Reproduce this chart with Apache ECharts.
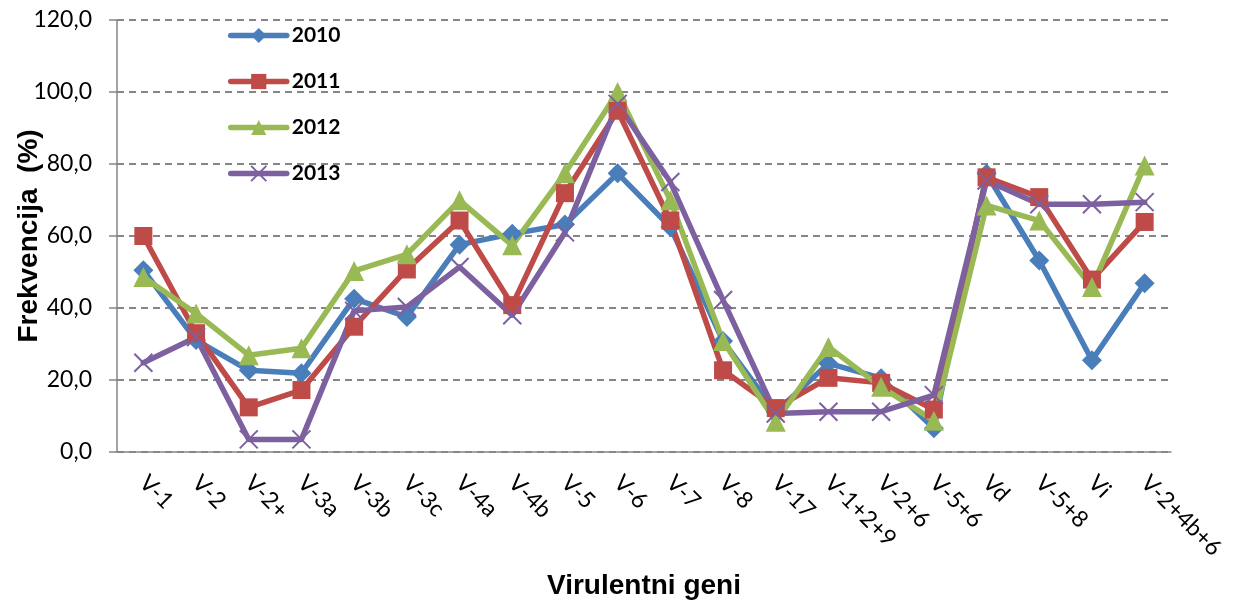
<!DOCTYPE html>
<html>
<head>
<meta charset="utf-8">
<script src="https://cdn.jsdelivr.net/npm/echarts@6/dist/echarts.min.js"></script>
<style>
  html, body { margin: 0; padding: 0; background: #fff; }
  #chart { width: 1241px; height: 604px; }
</style>
</head>
<body>
<div id="chart"></div>
<script>
const categories = ['V-1', 'V-2', 'V-2+', 'V-3a', 'V-3b', 'V-3c', 'V-4a', 'V-4b', 'V-5', 'V-6',
  'V-7', 'V-8', 'V-17', 'V-1+2+9', 'V-2+6', 'V-5+6', 'Vd', 'V-5+8', 'Vi', 'V-2+4b+6'];

const values2010 = [50.5, 31.1, 22.7, 21.9, 42.6, 37.5, 57.6, 60.6, 63.2, 77.4,
  62.5, 30.8, 11.1, 24.6, 20.5, 6.6, 77.3, 53.2, 25.5, 46.9];
const values2011 = [60.0, 33.0, 12.4, 17.2, 34.8, 50.7, 64.3, 40.8, 71.9, 94.8,
  64.3, 22.7, 12.2, 20.6, 19.2, 11.8, 76.3, 70.8, 47.9, 63.9];
const values2012 = [48.6, 38.5, 26.9, 28.8, 50.3, 54.9, 69.9, 57.4, 77.4, 100.0,
  69.9, 30.8, 8.4, 29.2, 18.1, 8.7, 68.5, 64.3, 45.8, 79.6];
const values2013 = [24.8, 31.9, 3.5, 3.5, 39.2, 40.3, 51.4, 38.0, 61.0, 96.7,
  75.0, 42.2, 10.7, 11.2, 11.2, 15.8, 75.4, 68.8, 68.8, 69.4];

const yTickLabels = ['0,0', '20,0', '40,0', '60,0', '80,0', '100,0', '120,0'];

const chart = echarts.init(document.getElementById('chart'));

function lineSeries(name, data, color, symbol, size, extraItem) {
  return {
    name: name,
    type: 'line',
    data: data,
    symbol: symbol,
    symbolSize: size,
    showAllSymbol: true,
    lineStyle: { color: color, width: 5.5, cap: 'round', join: 'round' },
    itemStyle: Object.assign({ color: color, borderWidth: 0 }, extraItem || {}),
    emphasis: { disabled: true }
  };
}

chart.setOption({
  animation: false,
  backgroundColor: '#fff',
  grid: { left: 117, right: 70, top: 20, bottom: 152, outerBoundsMode: 'none' },
  legend: {
    orient: 'vertical',
    left: 223,
    top: 20,
    itemWidth: 56,
    itemHeight: 19,
    itemGap: 25,
    lineStyle: { width: 5.5, cap: 'round' },
    textStyle: { fontFamily: 'Lato', fontWeight: 'bold', fontSize: 21, color: '#000' },
    data: ['2010', '2011', '2012', '2013']
  },
  xAxis: {
    type: 'category',
    data: categories,
    name: 'Virulentni geni',
    nameLocation: 'middle',
    nameGap: 120,
    nameMoveOverlap: false,
    nameTextStyle: { fontFamily: 'Liberation Sans', fontWeight: 'bold', fontSize: 28, color: '#000' },
    axisLine: { lineStyle: { color: '#868686', width: 1.5 } },
    axisTick: { length: 8, lineStyle: { color: '#868686', width: 1.5 } },
    axisLabel: {
      rotate: -45,
      margin: 27,
      interval: 0,
      fontFamily: 'Lato',
      fontSize: 23,
      color: '#000'
    },
    splitLine: { show: false }
  },
  yAxis: {
    type: 'value',
    min: 0,
    max: 120,
    interval: 20,
    name: 'Frekvencija  (%)',
    nameLocation: 'middle',
    nameGap: 74,
    nameMoveOverlap: false,
    nameTextStyle: { fontFamily: 'Liberation Sans', fontWeight: 'bold', fontSize: 28, color: '#000' },
    axisLine: { show: true, lineStyle: { color: '#868686', width: 1.5 } },
    axisTick: { show: true, length: 8, lineStyle: { color: '#868686', width: 1.5 } },
    axisLabel: {
      margin: 25,
      fontFamily: 'Lato',
      fontSize: 23,
      color: '#000',
      formatter: function (v) { return yTickLabels[Math.round(v / 20)]; }
    },
    splitLine: { lineStyle: { color: '#868686', width: 1.8, type: [7, 5] } }
  },
  series: [
    lineSeries('2010', values2010, '#4A7EBB', 'diamond', 20),
    lineSeries('2011', values2011, '#BE4B48', 'rect', 18),
    lineSeries('2012', values2012, '#98B954', 'triangle', 20),
    lineSeries('2013', values2013, '#7D60A0', 'path://M0,0L10,10M10,0L0,10', 18,
      { borderColor: '#7D60A0', borderWidth: 2 })
  ]
});
</script>
</body>
</html>
